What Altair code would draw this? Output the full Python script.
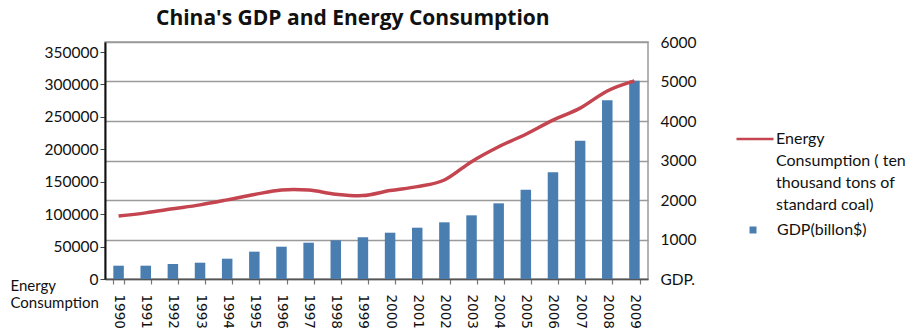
import altair as alt
import pandas as pd

# China, 1990-2009
years = [str(y) for y in range(1990, 2010)]
gdp_billion_usd = [337, 337, 380, 413, 514, 692, 818, 919, 980, 1056,
                   1172, 1299, 1435, 1612, 1916, 2261, 2705, 3501, 4524, 5020]
energy_10k_tce = [97000, 102000, 108200, 114300, 122000, 130300, 137400, 137200, 130800, 128600,
                  136400, 142500, 152700, 181000, 204000, 223300, 245000, 263500, 290000, 305500]

left_ticks = [0, 50000, 100000, 150000, 200000, 250000, 300000, 350000]
right_ticks = [0, 1000, 2000, 3000, 4000, 5000, 6000]

ENERGY_NAME = "Energy Consumption ( ten thousand tons of standard coal)"
ENERGY_LINES = ["Energy", "Consumption ( ten", "thousand tons of", "standard coal)"]
GDP_NAME = "GDP(billon$)"

BAR_COLOR = "#4a7eb1"
LINE_COLOR = "#c4454f"
FONT = "Lato"

df = pd.DataFrame({
    "year": years,
    "gdp": gdp_billion_usd,
    "energy": energy_10k_tce,
    "gdp_series": GDP_NAME,
    "energy_series": ENERGY_NAME,
})

x_enc = alt.X(
    "year:O",
    scale=alt.Scale(paddingInner=0.62, paddingOuter=0.31),
    axis=alt.Axis(
        title=None,
        labelAngle=90,
        labelAlign="left",
        labelBaseline="middle",
        labelPadding=10,
        labelFont="DejaVu Sans",
        labelFontSize=13.5,
        labelColor="#111",
        tickBand="extent",
        tickSize=5,
        tickColor="#777",
        tickWidth=1.2,
        domainColor="#555",
        domainWidth=1.5,
        grid=False,
    ),
)

label_expr = "[" + ", ".join("'" + s + "'" for s in ENERGY_LINES) + "]"

bars = alt.Chart(df).mark_bar(size=10.5).encode(
    x=x_enc,
    y=alt.Y(
        "gdp:Q",
        scale=alt.Scale(domain=[0, 6000], nice=False),
        axis=alt.Axis(
            orient="right",
            title=None,
            values=right_ticks,
            grid=True,
            gridColor="#9a9a9a",
            gridWidth=1.4,
            ticks=False,
            domain=False,
            labelPadding=12,
            labelFont=FONT,
            labelFontSize=15.5,
            labelColor="#111",
            labelExpr="datum.value == 0 ? 'GDP.' : format(datum.value, 'd')",
        ),
    ),
    fill=alt.Fill(
        "gdp_series:N",
        scale=alt.Scale(domain=[GDP_NAME], range=[BAR_COLOR]),
        legend=alt.Legend(
            title=None,
            orient="none",
            legendX=640,
            legendY=180,
            symbolType="square",
            symbolSize=49,
            symbolStrokeWidth=0,
            labelOffset=16,
            labelFont=FONT,
            labelFontSize=16,
            labelColor="#111",
            padding=0,
        ),
    ),
)

line = alt.Chart(df).mark_line(interpolate="cardinal", strokeWidth=3.5).encode(
    x=alt.X("year:O"),
    y=alt.Y(
        "energy:Q",
        scale=alt.Scale(domain=[0, 365500], nice=False),
        axis=alt.Axis(
            orient="left",
            title=["Energy", "Consumption"],
            titleAngle=0,
            titleAlign="left",
            titleBaseline="top",
            titleX=-95,
            titleY=236,
            titleFont=FONT,
            titleFontSize=15,
            titleFontWeight="normal",
            titleColor="#111",
            titleLineHeight=17,
            values=left_ticks,
            format="d",
            grid=False,
            tickSize=5,
            tickColor="#444",
            domainColor="#111",
            domainWidth=2,
            labelPadding=2,
            labelFont=FONT,
            labelFontSize=15.5,
            labelColor="#111",
        ),
    ),
    stroke=alt.Stroke(
        "energy_series:N",
        scale=alt.Scale(domain=[ENERGY_NAME], range=[LINE_COLOR]),
        legend=alt.Legend(
            title=None,
            orient="none",
            legendX=630,
            legendY=77,
            symbolType="stroke",
            symbolSize=1369,
            symbolStrokeWidth=2.5,
            labelOffset=1,
            labelFont=FONT,
            labelFontSize=16,
            labelColor="#111",
            labelBaseline="middle",
            labelLimit=300,
            labelExpr=label_expr,
            padding=0,
        ),
    ),
)

chart = (
    alt.layer(bars, line)
    .resolve_scale(y="independent", fill="independent", stroke="independent")
    .properties(
        width=543,
        height=237,
        autosize=alt.AutoSizeParams(type="none"),
        padding={"left": 105, "top": 42, "right": 264, "bottom": 50},
        title=alt.TitleParams(
            "China's GDP and Energy Consumption",
            font="Open Sans",
            fontSize=21,
            fontWeight="bold",
            color="#111",
            anchor="start",
            dx=146,
            dy=11,
            baseline="alphabetic",
            offset=0,
        ),
    )
    .configure(style={"guide-label": {"lineHeight": 22}})
    .configure_view(stroke="#9a9a9a", strokeWidth=1.5)
)

chart.save("out.html", embed_options={"renderer": "svg", "actions": False})
